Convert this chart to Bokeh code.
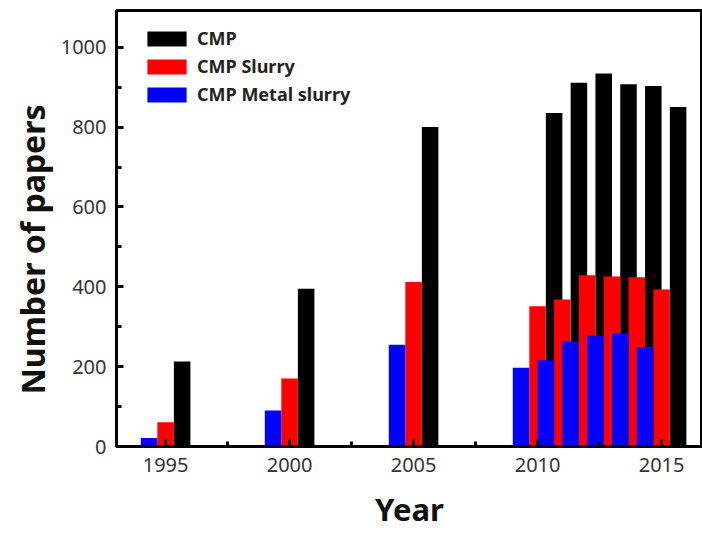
from bokeh.plotting import figure
from bokeh.models import Range1d, FixedTicker, ColumnDataSource
from bokeh.transform import dodge
from bokeh.embed import file_html
from bokeh.resources import INLINE

years = [1995, 2000, 2005, 2010, 2011, 2012, 2013, 2014, 2015]
cmp_total = [213, 395, 800, 835, 911, 934, 907, 903, 850]
cmp_slurry = [61, 170, 412, 351, 368, 429, 426, 424, 393]
cmp_metal = [21, 90, 255, 197, 216, 263, 278, 283, 249]
series_names = ["CMP", "CMP Slurry", "CMP Metal slurry"]
x_ticks = [1995, 2000, 2005, 2010, 2015]
y_ticks = [0, 200, 400, 600, 800, 1000]
x_title = "Year"
y_title = "Number of papers"

bar_w = 2 / 3
src = ColumnDataSource(dict(year=years, total=cmp_total, slurry=cmp_slurry, metal=cmp_metal))

p = figure(width=702, height=534,
           x_range=Range1d(1993.02, 2016.65), y_range=Range1d(0, 1092),
           output_backend="svg", toolbar_location=None,
           min_border_left=116, min_border_right=0, min_border_top=10, min_border_bottom=88)

p.vbar(x=dodge("year", bar_w, range=p.x_range), top="total", width=bar_w, source=src,
       fill_color="#000000", line_color=None, legend_label=series_names[0])
p.vbar(x=dodge("year", 0, range=p.x_range), top="slurry", width=bar_w, source=src,
       fill_color="#ff0000", line_color=None, legend_label=series_names[1])
p.vbar(x=dodge("year", -bar_w, range=p.x_range), top="metal", width=bar_w, source=src,
       fill_color="#0000ff", line_color=None, legend_label=series_names[2])

p.xgrid.visible = False
p.ygrid.visible = False
p.outline_line_color = "#000000"
p.outline_line_width = 3
p.outline_line_alpha = 1

xminor = [(a + b) / 2 for a, b in zip(x_ticks[:-1], x_ticks[1:])]
yminor = [(a + b) / 2 for a, b in zip(y_ticks[:-1], y_ticks[1:])]
p.xaxis.ticker = FixedTicker(ticks=x_ticks, minor_ticks=xminor)
p.yaxis.ticker = FixedTicker(ticks=y_ticks, minor_ticks=yminor)

for ax in (p.xaxis, p.yaxis):
    ax.axis_line_width = 3
    ax.axis_line_color = "#000000"
    ax.major_tick_line_width = 3
    ax.minor_tick_line_width = 3
    ax.major_tick_in = 7
    ax.major_tick_out = 0
    ax.minor_tick_in = 5
    ax.minor_tick_out = 0
    ax.major_label_text_font = "Noto Sans"
    ax.major_label_text_font_size = "20px"
    ax.major_label_text_color = "#333333"
    ax.axis_label_text_font = "Noto Sans"
    ax.axis_label_text_font_style = "bold"
    ax.axis_label_text_color = "#111111"

p.xaxis.axis_label = x_title
p.xaxis.axis_label_text_font_size = "31px"
p.xaxis.major_label_standoff = 11
p.xaxis.axis_label_standoff = 13

# non-breaking spaces shift the centred title down, as in the original
p.yaxis.axis_label = y_title + "\u00a0" * 5
p.yaxis.axis_label_text_font_size = "32px"
p.yaxis.major_label_standoff = 10
p.yaxis.axis_label_standoff = 4

lg = p.legend[0]
lg.location = (26, 340)
lg.border_line_color = None
lg.background_fill_alpha = 0
lg.padding = 0
lg.margin = 0
lg.glyph_width = 49
lg.glyph_height = 19
lg.label_height = 19
lg.label_standoff = 6
lg.spacing = 4
lg.label_text_font = "Noto Sans"
lg.label_text_font_size = "18px"
lg.label_text_font_style = "bold"
lg.label_text_color = "#222222"

open("out.html", "w").write(file_html(p, INLINE))
